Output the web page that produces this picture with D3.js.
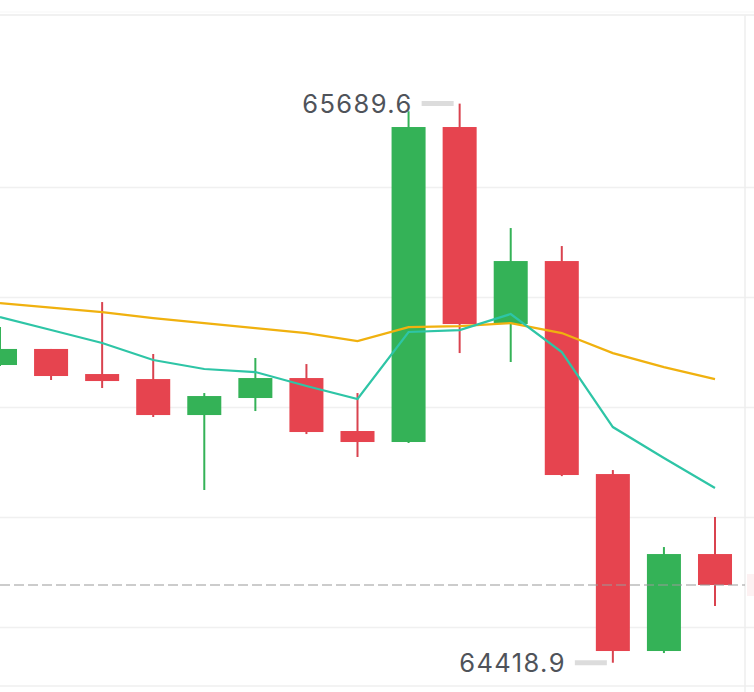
<!DOCTYPE html>
<html>
<head>
<meta charset="utf-8">
<script src="https://cdn.jsdelivr.net/npm/d3@7"></script>
<style>
  html, body { margin: 0; padding: 0; background: #fff; }
  svg { display: block; }
</style>
</head>
<body>
<div id="chart"></div>
<script>
// candle data
var candleIndex = [0, 1, 2, 3, 4, 5, 6, 7, 8, 9, 10, 11, 12, 13, 14];
var opens  = [65095.5, 65132.0, 65075.0, 65063.6, 64981.8, 65020.5, 65065.9, 64945.5, 64920.5, 65636.4, 65188.6, 65331.8, 64847.7, 64445.5, 64665.9];
var highs  = [65182.0, 65132.0, 65238.6, 65120.5, 65031.8, 65111.4, 65097.7, 65031.8, 65672.0, 65689.6, 65406.8, 65365.9, 64856.8, 64681.8, 64750.0];
var lows   = [65093.2, 65061.4, 65043.2, 64977.3, 64811.4, 64990.9, 64938.6, 64886.4, 64918.2, 65122.7, 65102.3, 64843.0, 64418.9, 64440.9, 64547.7];
var closes = [65132.0, 65070.5, 65059.1, 64981.8, 65025.0, 65065.9, 64943.2, 64920.5, 65636.4, 65188.6, 65331.8, 64845.5, 64445.5, 64665.9, 64595.5];

// moving averages
var maFast = [65204.5, 65175.0, 65145.5, 65106.8, 65086.4, 65079.5, 65047.7, 65018.2, 65170.5, 65175.0, 65211.4, 65125.0, 64954.5, 64884.1, 64815.9];
var maSlow = [65236.4, 65226.1, 65215.9, 65202.3, 65190.9, 65179.5, 65168.2, 65150.0, 65181.8, 65184.1, 65190.9, 65168.2, 65122.7, 65090.9, 65063.6];

var gridTicks = [64500, 64750, 65000, 65250, 65500];
var priceDomain = [64366, 65891];

var width = 754, height = 692;
var plotTop = 15, plotBottom = 686, plotRight = 745;

var up = '#34b257', down = '#e6444f';

var svg = d3.select('#chart').append('svg')
    .attr('width', width)
    .attr('height', height);

var x = d3.scalePoint()
    .domain(candleIndex)
    .range([0, 715]);

var y = d3.scaleLinear()
    .domain(priceDomain)
    .range([plotBottom, plotTop]);

var bodyW = x.step() * 0.666;

// grid
svg.append('g')
    .attr('class', 'grid')
    .call(d3.axisLeft(y).tickValues(gridTicks).tickSize(-width).tickFormat(''))
    .call(function(g) {
        g.select('.domain').remove();
        g.selectAll('line').attr('stroke', '#f0f0f0').attr('stroke-width', 1.5);
    });

// frame
svg.append('line').attr('x1', 0).attr('x2', width).attr('y1', 12).attr('y2', 12)
    .attr('stroke', '#f7f7f7').attr('stroke-width', 1);
svg.append('line').attr('x1', 0).attr('x2', width).attr('y1', plotTop).attr('y2', plotTop)
    .attr('stroke', '#ededed').attr('stroke-width', 1.5);
svg.append('line').attr('x1', 0).attr('x2', width).attr('y1', plotBottom).attr('y2', plotBottom)
    .attr('stroke', '#efefef').attr('stroke-width', 1.5);
svg.append('line').attr('x1', plotRight).attr('x2', plotRight).attr('y1', plotTop).attr('y2', height)
    .attr('stroke', '#eeeeee').attr('stroke-width', 1.5);

var candles = candleIndex.map(function(i) {
    return { i: i, o: opens[i], h: highs[i], l: lows[i], c: closes[i] };
});

// wicks
svg.append('g').selectAll('line')
    .data(candles)
    .join('line')
    .attr('x1', function(d) { return x(d.i); })
    .attr('x2', function(d) { return x(d.i); })
    .attr('y1', function(d) { return y(d.h); })
    .attr('y2', function(d) { return y(d.l); })
    .attr('stroke', function(d) { return d.c >= d.o ? up : '#d9434f'; })
    .attr('stroke-width', 2);

// bodies
svg.append('g').selectAll('rect')
    .data(candles)
    .join('rect')
    .attr('x', function(d) { return x(d.i) - bodyW / 2; })
    .attr('y', function(d) { return y(Math.max(d.o, d.c)); })
    .attr('width', bodyW)
    .attr('height', function(d) { return Math.max(1, Math.abs(y(d.o) - y(d.c))); })
    .attr('fill', function(d) { return d.c >= d.o ? up : down; });

// MA lines
var line = d3.line()
    .x(function(d, i) { return x(i); })
    .y(function(d) { return y(d); });

svg.append('path')
    .datum(maSlow)
    .attr('fill', 'none')
    .attr('stroke', '#f0b10f')
    .attr('stroke-width', 2.3)
    .attr('d', line);

svg.append('path')
    .datum(maFast)
    .attr('fill', 'none')
    .attr('stroke', '#2ec5a6')
    .attr('stroke-width', 2.2)
    .attr('d', line);

// last price line
var last = closes[closes.length - 1];
svg.append('line')
    .attr('x1', 0).attr('x2', plotRight)
    .attr('y1', y(last)).attr('y2', y(last))
    .attr('stroke', '#9a9a9a')
    .attr('stroke-width', 1.2)
    .attr('stroke-dasharray', '10,4');

svg.append('rect')
    .attr('x', plotRight + 2).attr('y', y(last) - 11)
    .attr('width', 10).attr('height', 22)
    .attr('fill', '#fdf1f2');

// max / min markers
function marker(idx, value) {
    var cx = x(idx), cy = y(value);
    svg.append('line')
        .attr('x1', cx - 38).attr('x2', cx - 6)
        .attr('y1', cy).attr('y2', cy)
        .attr('stroke', '#dcdcdc')
        .attr('stroke-width', 5);
    svg.append('text')
        .attr('x', cx - 47)
        .attr('y', cy + 9.5)
        .attr('text-anchor', 'end')
        .attr('font-family', 'Inter, sans-serif')
        .attr('font-size', 25.5)
        .attr('letter-spacing', 1.4)
        .attr('fill', '#4f535a')
        .text(value.toFixed(1));
}

var hiIdx = d3.maxIndex(highs), loIdx = d3.minIndex(lows);
marker(hiIdx, highs[hiIdx]);
marker(loIdx, lows[loIdx]);
</script>
</body>
</html>
